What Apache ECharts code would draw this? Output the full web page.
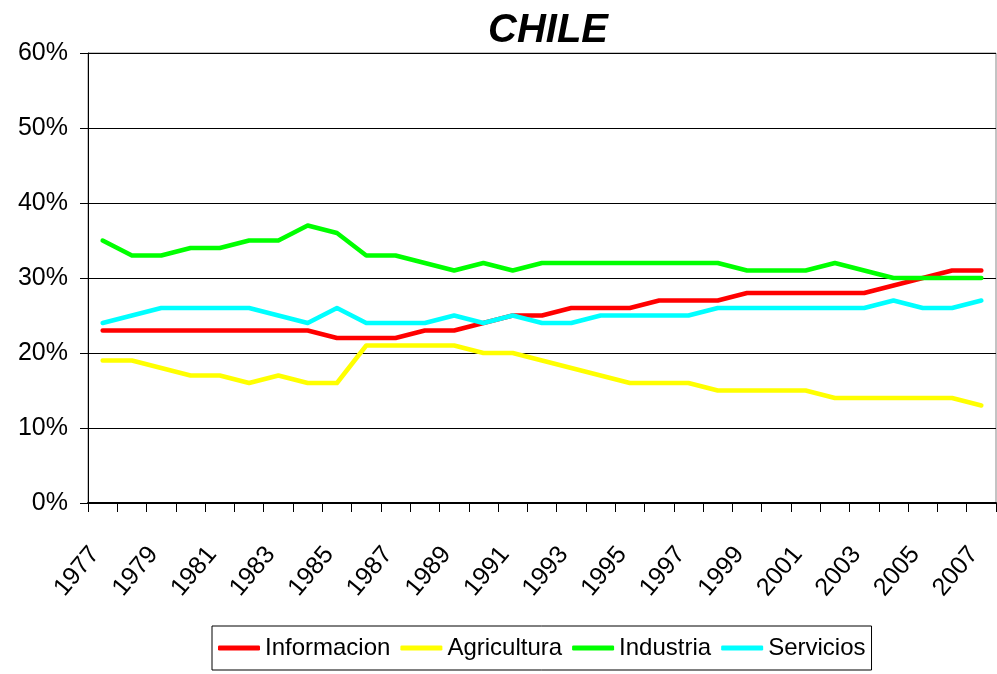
<!DOCTYPE html>
<html>
<head>
<meta charset="utf-8">
<script src="https://cdn.jsdelivr.net/npm/echarts@6/dist/echarts.min.js"></script>
<style>
html,body{margin:0;padding:0;background:#fff;}
#chart{width:997px;height:674px;}
</style>
</head>
<body>
<div id="chart"></div>
<script>
var years = ['1977','1978','1979','1980','1981','1982','1983','1984','1985','1986','1987','1988','1989','1990','1991','1992','1993','1994','1995','1996','1997','1998','1999','2000','2001','2002','2003','2004','2005','2006','2007'];
var informacion = [23,23,23,23,23,23,23,23,22,22,22,23,23,24,25,25,26,26,26,27,27,27,28,28,28,28,28,29,30,31,31];
var agricultura = [19,19,18,17,17,16,17,16,16,21,21,21,21,20,20,19,18,17,16,16,16,15,15,15,15,14,14,14,14,14,13];
var industria   = [35,33,33,34,34,35,35,37,36,33,33,32,31,32,31,32,32,32,32,32,32,32,31,31,31,32,31,30,30,30,30];
var servicios   = [24,25,26,26,26,26,25,24,26,24,24,24,25,24,25,24,24,25,25,25,25,26,26,26,26,26,26,27,26,26,27];
var seriesNames = ['Informacion','Agricultura','Industria','Servicios'];
var seriesColors = ['#ff0000','#ffff00','#00ff00','#00ffff'];
var seriesData = [informacion, agricultura, industria, servicios];

var FONT = "'Liberation Sans', Arial, sans-serif";
var chart = echarts.init(document.getElementById('chart'), null, {renderer:'canvas'});
chart.setOption({
  animation: false,
  backgroundColor: '#fff',
  title: {
    text: 'CHILE',
    left: 543, textAlign: 'center',
    top: 6,
    textStyle: {fontFamily: FONT, fontSize: 40, fontWeight: 'bold', fontStyle: 'italic', color: '#000'}
  },
  legend: {
    data: seriesNames,
    left: 212, top: 626,
    padding: [10, 6, 10, 6],
    borderColor: '#000', borderWidth: 1,
    itemWidth: 42, itemHeight: 5, itemGap: 10,
    icon: 'roundRect',
    textStyle: {fontFamily: FONT, fontSize: 24, color: '#000'}
  },
  grid: {
    left: 88, right: 1, top: 53, bottom: 171,
    show: true, borderColor: '#888', borderWidth: 1
  },
  xAxis: {
    type: 'category',
    data: years,
    boundaryGap: true,
    axisLine: {lineStyle: {color: '#000', width: 2}},
    axisTick: {show: true, interval: 0, length: 9, lineStyle: {color: '#000', width: 1}},
    axisLabel: {interval: 1, rotate: 50, margin: 38, padding: [0, 12, 0, 0], fontFamily: FONT, fontSize: 25, color: '#000'},
    splitLine: {show: false}
  },
  yAxis: {
    type: 'value',
    min: 0, max: 60, interval: 10,
    axisLine: {show: true, lineStyle: {color: '#000', width: 1}},
    axisTick: {show: true, length: 8, lineStyle: {color: '#000'}},
    axisLabel: {formatter: '{value}%', margin: 20, fontFamily: FONT, fontSize: 25, color: '#000'},
    splitLine: {show: true, lineStyle: {color: '#000', width: 1}}
  },
  series: seriesNames.map(function(n, i){
    return {
      name: n, type: 'line', data: seriesData[i],
      symbol: 'none', color: seriesColors[i],
      lineStyle: {width: 4.5, color: seriesColors[i], cap: 'round', join: 'round'}
    };
  })
});
</script>
</body>
</html>
